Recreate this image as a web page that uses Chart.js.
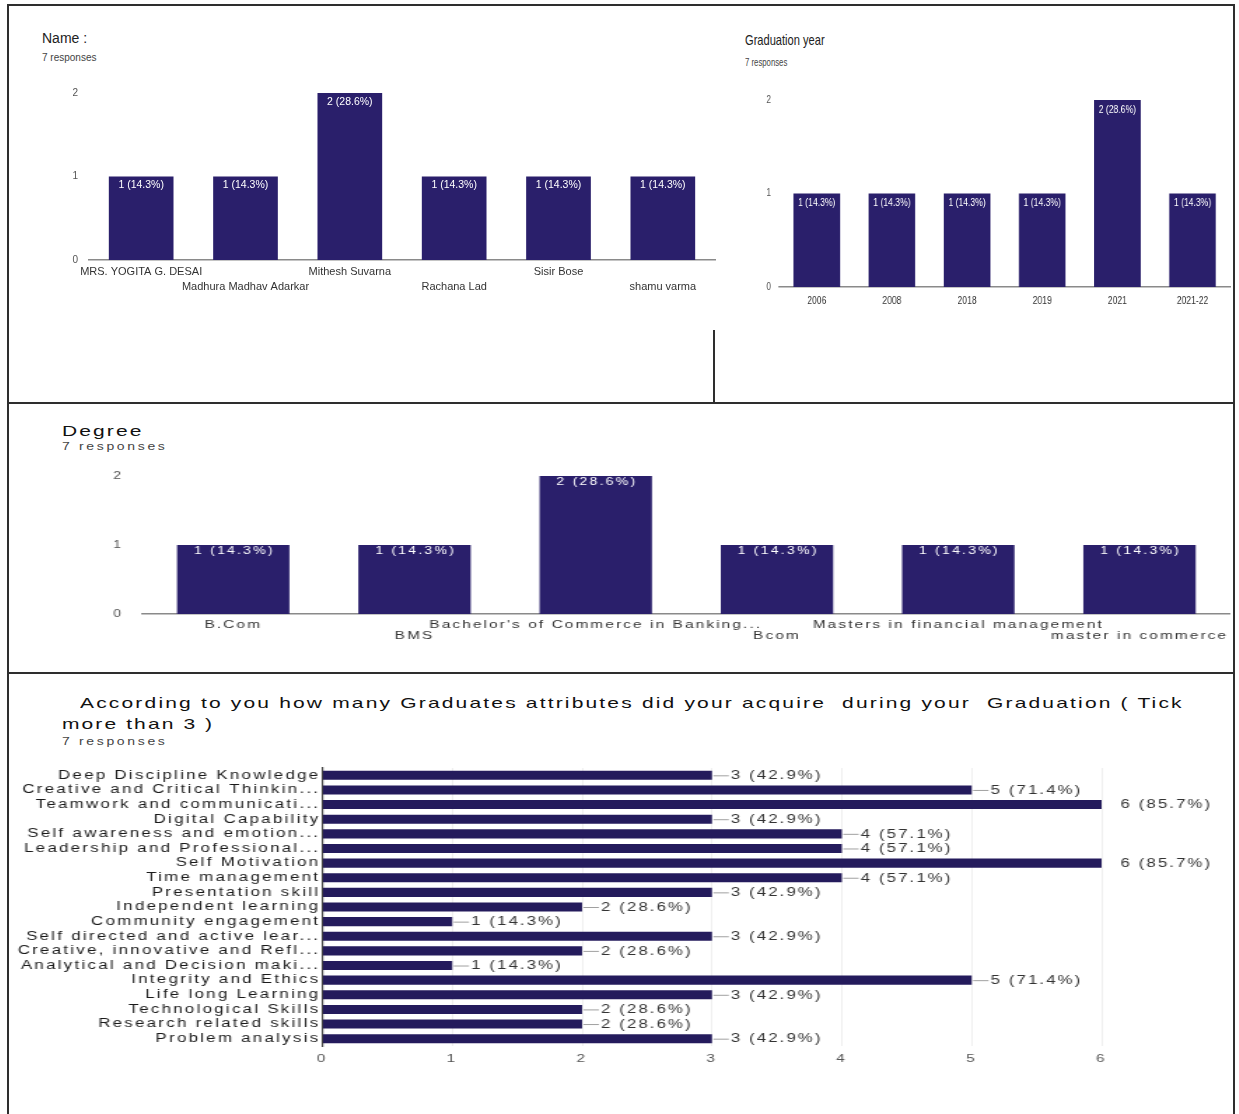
<!DOCTYPE html>
<html lang="en">
<head>
    <meta charset="UTF-8">
    <meta name="viewport" content="width=device-width, initial-scale=1.0">
    <title>Graduate Survey Summary</title>
    <script src="https://cdn.jsdelivr.net/npm/chart.js"></script>
    <style>
        body { margin: 0; background: #fff; }
        .page { position: relative; width: 1239px; height: 1114px; overflow: hidden; font-family: "Liberation Sans", Arial, sans-serif; color: #222; }
        .rule { position: absolute; background: #2e2e2e; }
        .txt { position: absolute; white-space: pre; line-height: 1; transform-origin: 0 50%; }
        .narrow { transform: scaleX(0.74); }
        .wide { transform: scaleX(1.4); }
        canvas { position: absolute; }
    </style>
</head>
<body>
<div class="page">
    <!-- frame lines of the scanned sheet -->
    <div class="rule" style="left:7px; top:4px; width:1228px; height:2px;"></div>
    <div class="rule" style="left:7px; top:4px; width:2px; height:1110px;"></div>
    <div class="rule" style="left:1233px; top:4px; width:2px; height:1110px;"></div>
    <div class="rule" style="left:7px; top:402px; width:1228px; height:2px;"></div>
    <div class="rule" style="left:7px; top:672px; width:1228px; height:2px;"></div>
    <div class="rule" style="left:713px; top:330px; width:2px; height:73px;"></div>

    <div class="txt" style="left:42px; top:31px; font-size:14px;">Name :</div>
    <div class="txt" style="left:42px; top:53px; font-size:10px; color:#444;">7 responses</div>
    <canvas id="nameChart" width="690" height="230" style="left:40px; top:80px;"></canvas>

    <div class="txt narrow" style="left:745px; top:32px; font-size:15px;">Graduation year</div>
    <div class="txt narrow" style="left:745px; top:57px; font-size:10.5px; color:#444;">7 responses</div>
    <canvas id="yearChart" width="616" height="240" style="left:730px; top:80px; width:505px; height:240px;"></canvas>

    <div class="txt wide" style="left:62px; top:423px; font-size:15px; letter-spacing:1.5px; color:#111;">Degree</div>
    <div class="txt wide" style="left:62px; top:442px; font-size:10px; letter-spacing:1.9px; color:#444;">7 responses</div>
    <canvas id="degreeChart" width="840" height="190" style="left:60px; top:465px; width:1176px; height:190px;"></canvas>

    <div class="txt wide" style="left:80px; top:695px; font-size:15px; letter-spacing:1.55px; color:#111;">According to you how many Graduates attributes did your acquire  during your  Graduation ( Tick</div>
    <div class="txt wide" style="left:62px; top:716px; font-size:15px; letter-spacing:1.5px; color:#111;">more than 3 )</div>
    <div class="txt wide" style="left:62px; top:737px; font-size:10px; letter-spacing:1.9px; color:#444;">7 responses</div>
    <canvas id="attributeChart" width="872" height="320" style="left:15px; top:755px; width:1221px; height:320px;"></canvas>
</div>

<script>
    const RESPONSES = 7;

    const nameLabels = ["MRS. YOGITA G. DESAI", "Madhura Madhav Adarkar", "Mithesh Suvarna", "Rachana Lad", "Sisir Bose", "shamu varma"];
    const nameCounts = [1, 1, 2, 1, 1, 1];

    const yearLabels = ["2006", "2008", "2018", "2019", "2021", "2021-22"];
    const yearCounts = [1, 1, 1, 1, 2, 1];

    const degreeLabels = ["B.Com", "BMS", "Bachelor's of Commerce in Banking...", "Bcom", "Masters in financial management", "master in commerce"];
    const degreeCounts = [1, 1, 2, 1, 1, 1];

    const attributeLabels = [
        "Deep Discipline Knowledge", "Creative and Critical Thinkin...", "Teamwork and communicati...",
        "Digital Capability", "Self awareness and emotion...", "Leadership and Professional...",
        "Self Motivation", "Time management", "Presentation skill", "Independent learning",
        "Community engagement", "Self directed and active lear...", "Creative, innovative and Refl...",
        "Analytical and Decision maki...", "Integrity and Ethics", "Life long Learning",
        "Technological Skills", "Research related skills", "Problem analysis"
    ];
    const attributeCounts = [3, 5, 6, 3, 4, 4, 6, 4, 3, 2, 1, 3, 2, 1, 5, 3, 2, 2, 3];

    const BAR = "#2a1f6b";
    const SANS = "'Liberation Sans', Arial, sans-serif";

    function pct(v) {
        return v + " (" + (v / RESPONSES * 100).toFixed(1) + "%)";
    }

    // the scan stretched the lower two charts, letters are loosely spaced
    function spacing(px) {
        return {
            id: "spacing",
            beforeLayout(chart) { chart.ctx.letterSpacing = px + "px"; },
            beforeDraw(chart) { chart.ctx.letterSpacing = px + "px"; }
        };
    }

    function insideLabels(font, gap, offset) {
        return {
            id: "insideLabels",
            afterDatasetsDraw(chart) {
                const ctx = chart.ctx;
                const values = chart.data.datasets[0].data;
                ctx.save();
                ctx.font = font;
                ctx.letterSpacing = gap + "px";
                ctx.fillStyle = "#fff";
                ctx.textAlign = "center";
                ctx.textBaseline = "middle";
                chart.getDatasetMeta(0).data.forEach((bar, i) => {
                    ctx.fillText(pct(values[i]), bar.x + gap / 2, bar.y + offset);
                });
                ctx.restore();
            }
        };
    }

    function outsideLabels(font, gap) {
        return {
            id: "outsideLabels",
            afterDatasetsDraw(chart) {
                const ctx = chart.ctx;
                const values = chart.data.datasets[0].data;
                ctx.save();
                ctx.font = font;
                ctx.letterSpacing = gap + "px";
                ctx.fillStyle = "#333";
                ctx.strokeStyle = "#a0a0a0";
                ctx.lineWidth = 1;
                ctx.textAlign = "left";
                ctx.textBaseline = "middle";
                chart.getDatasetMeta(0).data.forEach((bar, i) => {
                    if (bar.x < chart.chartArea.right - 1) {
                        ctx.beginPath();
                        ctx.moveTo(bar.x + 1, bar.y + 0.5);
                        ctx.lineTo(bar.x + 12, bar.y + 0.5);
                        ctx.stroke();
                    }
                    ctx.fillText(pct(values[i]), bar.x + 13.5, bar.y + 0.5);
                });
                ctx.restore();
            }
        };
    }

    function columnChart(id, labels, counts, cfg) {
        return new Chart(document.getElementById(id), {
            type: "bar",
            data: {
                labels: labels,
                datasets: [{ data: counts, backgroundColor: BAR, barPercentage: 0.62, categoryPercentage: 1 }]
            },
            options: {
                responsive: false,
                animation: false,
                layout: { padding: cfg.padding },
                plugins: { legend: { display: false }, tooltip: { enabled: false } },
                scales: {
                    x: {
                        grid: { display: false, drawTicks: false },
                        border: { display: true, color: "#8a8a8a", width: 1.5 },
                        ticks: {
                            font: cfg.xFont,
                            color: "#333",
                            padding: cfg.xPad,
                            maxRotation: 0,
                            minRotation: 0,
                            autoSkip: false,
                            callback: function (value, index) {
                                const t = this.getLabelForValue(value);
                                return cfg.stagger && index % 2 ? ["", t] : t;
                            }
                        },
                        afterFit: s => { s.height = cfg.xHeight; }
                    },
                    y: {
                        min: 0,
                        max: 2,
                        grid: { display: false, drawTicks: false },
                        border: { display: false },
                        ticks: { stepSize: 1, font: cfg.yFont, color: "#555", padding: cfg.yPad },
                        afterFit: s => { s.width = cfg.yWidth; s.paddingTop = 0; s.paddingBottom = 0; }
                    }
                }
            },
            plugins: cfg.plugins
        });
    }

    columnChart("nameChart", nameLabels, nameCounts, {
        padding: { top: 13, right: 15, bottom: 0, left: 0 },
        xFont: { family: SANS, size: 11, lineHeight: 1.35 },
        yFont: { family: SANS, size: 10 },
        xPad: 5, yPad: 11, xHeight: 50, yWidth: 49, stagger: true,
        plugins: [insideLabels("10.5px " + SANS, 0, 9)]
    });

    // canvas is 616 wide but shown 505 wide, so everything is condensed
    columnChart("yearChart", yearLabels, yearCounts, {
        padding: { top: 20, right: 6, bottom: 0, left: 0 },
        xFont: { family: SANS, size: 10.5, lineHeight: 1.2 },
        yFont: { family: SANS, size: 10.5 },
        xPad: 8, yPad: 10, xHeight: 33, yWidth: 60, stagger: false,
        plugins: [insideLabels("10.5px " + SANS, 0, 10)]
    });

    // canvas is 840 wide but shown 1176 wide (stretched like the scan)
    columnChart("degreeChart", degreeLabels, degreeCounts, {
        padding: { top: 11, right: 1, bottom: 0, left: 0 },
        xFont: { family: SANS, size: 11, lineHeight: 1.0 },
        yFont: { family: SANS, size: 10 },
        xPad: 5.5, yPad: 14, xHeight: 41, yWidth: 59, stagger: true,
        plugins: [spacing(1.5), insideLabels("10px " + SANS, 1.6, 6.5)]
    });

    new Chart(document.getElementById("attributeChart"), {
        type: "bar",
        data: {
            labels: attributeLabels,
            datasets: [{ data: attributeCounts, backgroundColor: "#241b5c", barPercentage: 0.62, categoryPercentage: 1 }]
        },
        options: {
            indexAxis: "y",
            responsive: false,
            animation: false,
            layout: { padding: { top: 13, right: 96, bottom: 0, left: 0 } },
            plugins: { legend: { display: false }, tooltip: { enabled: false } },
            scales: {
                x: {
                    min: 0,
                    max: 6,
                    grid: { color: "#efefef", drawTicks: false },
                    border: { display: false },
                    ticks: { stepSize: 1, font: { family: SANS, size: 11 }, color: "#555", padding: 6 },
                    afterFit: s => { s.height = 29; }
                },
                y: {
                    grid: { display: false, drawTicks: false },
                    border: { display: true, color: "#444", width: 1.2 },
                    ticks: { font: { family: SANS, size: 12 }, color: "#1a1a1a", padding: 1.4, autoSkip: false },
                    afterFit: s => { s.width = 219.5; s.paddingTop = 0; s.paddingBottom = 0; }
                }
            }
        },
        plugins: [spacing(1.65), outsideLabels("12px " + SANS, 1.5)]
    });
</script>
</body>
</html>
